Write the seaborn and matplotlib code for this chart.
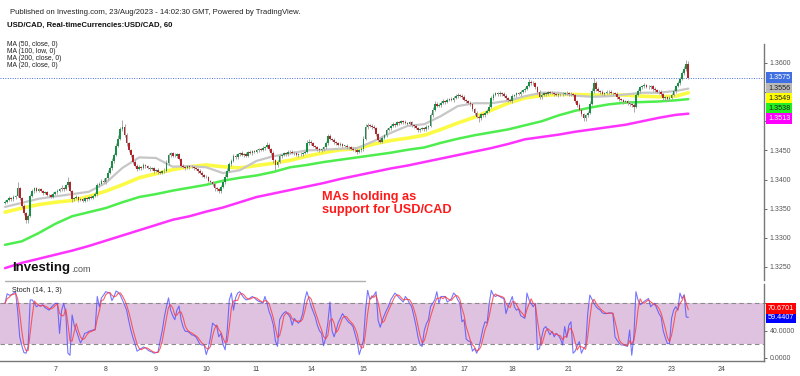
import numpy as np
import pandas as pd
import matplotlib
matplotlib.use('Agg')
import matplotlib.pyplot as plt
import seaborn as sns
from matplotlib.lines import Line2D

sns.set_style('white')
plt.rcParams['font.family'] = ['Liberation Sans', 'DejaVu Sans']

# ---------------- data (hourly USD/CAD) ----------------
first_open = 1.3360
close = [
    1.3362, 1.3365, 1.3368, 1.3366, 1.3370, 1.3372, 1.3385, 1.3368, 1.3355, 1.3342,
    1.3330, 1.3338, 1.3372, 1.3380, 1.3385, 1.3381, 1.3383, 1.3380, 1.3377, 1.3378,
    1.3374, 1.3373, 1.3370, 1.3376, 1.3378, 1.3381, 1.3383, 1.3386, 1.3384, 1.3390,
    1.3395, 1.3380, 1.3366, 1.3368, 1.3370, 1.3365, 1.3366, 1.3364, 1.3368, 1.3367,
    1.3370, 1.3369, 1.3372, 1.3375, 1.3390, 1.3393, 1.3398, 1.3396, 1.3402, 1.3412,
    1.3420, 1.3432, 1.3442, 1.3458, 1.3470, 1.3486, 1.3490, 1.3476, 1.3462, 1.3450,
    1.3442, 1.3430, 1.3424, 1.3418, 1.3422, 1.3420, 1.3425, 1.3423, 1.3420, 1.3418,
    1.3419, 1.3415, 1.3416, 1.3413, 1.3412, 1.3414, 1.3415, 1.3428, 1.3442, 1.3445,
    1.3441, 1.3440, 1.3443, 1.3435, 1.3424, 1.3421, 1.3420, 1.3423, 1.3421, 1.3422,
    1.3420, 1.3418, 1.3415, 1.3412, 1.3408, 1.3405, 1.3404, 1.3398, 1.3396, 1.3392,
    1.3385, 1.3383, 1.3380, 1.3388, 1.3396, 1.3405, 1.3415, 1.3426, 1.3432, 1.3440,
    1.3438, 1.3443, 1.3446, 1.3442, 1.3444, 1.3441, 1.3447, 1.3445, 1.3449, 1.3448,
    1.3450, 1.3452, 1.3451, 1.3454, 1.3456, 1.3460, 1.3452, 1.3446, 1.3433, 1.3425,
    1.3430, 1.3440, 1.3442, 1.3445, 1.3443, 1.3447, 1.3448, 1.3446, 1.3445, 1.3442,
    1.3443, 1.3444, 1.3446, 1.3448, 1.3462, 1.3465, 1.3462, 1.3458, 1.3455, 1.3452,
    1.3450, 1.3452, 1.3455, 1.3462, 1.3475, 1.3470, 1.3468, 1.3464, 1.3462, 1.3460,
    1.3461, 1.3458, 1.3458, 1.3456, 1.3455, 1.3453, 1.3451, 1.3450, 1.3448, 1.3450,
    1.3452, 1.3470, 1.3490, 1.3493, 1.3492, 1.3490, 1.3488, 1.3478, 1.3468, 1.3465,
    1.3472, 1.3476, 1.3485, 1.3488, 1.3492, 1.3495, 1.3494, 1.3498, 1.3497, 1.3500,
    1.3499, 1.3497, 1.3496, 1.3498, 1.3493, 1.3492, 1.3488, 1.3485, 1.3487, 1.3488,
    1.3486, 1.3490, 1.3492, 1.3510, 1.3520, 1.3530, 1.3527, 1.3528, 1.3532, 1.3535,
    1.3533, 1.3537, 1.3538, 1.3536, 1.3540, 1.3543, 1.3545, 1.3544, 1.3542, 1.3537,
    1.3535, 1.3532, 1.3530, 1.3521, 1.3515, 1.3508, 1.3505, 1.3512, 1.3510, 1.3515,
    1.3518, 1.3525, 1.3540, 1.3545, 1.3548, 1.3546, 1.3549, 1.3547, 1.3544, 1.3540,
    1.3536, 1.3535, 1.3543, 1.3545, 1.3548, 1.3547, 1.3550, 1.3553, 1.3556, 1.3560,
    1.3568, 1.3566, 1.3565, 1.3558, 1.3550, 1.3542, 1.3545, 1.3548, 1.3547, 1.3550,
    1.3549, 1.3548, 1.3546, 1.3545, 1.3547, 1.3546, 1.3547, 1.3549, 1.3548, 1.3546,
    1.3547, 1.3545, 1.3535, 1.3528, 1.3520, 1.3512, 1.3505, 1.3510, 1.3515, 1.3530,
    1.3552, 1.3565, 1.3555, 1.3552, 1.3550, 1.3547, 1.3548, 1.3551, 1.3550, 1.3548,
    1.3549, 1.3547, 1.3542, 1.3538, 1.3536, 1.3533, 1.3534, 1.3531, 1.3530, 1.3528,
    1.3525, 1.3545, 1.3552, 1.3558, 1.3560, 1.3562, 1.3559, 1.3558, 1.3560, 1.3555,
    1.3553, 1.3551, 1.3550, 1.3546, 1.3540, 1.3541, 1.3538, 1.3540, 1.3545, 1.3552,
    1.3560, 1.3566, 1.3572, 1.3582, 1.3590, 1.3598, 1.3575,
]

# wick lengths above / below the candle body, in pips
wick_up = [
    3, 2, 4, 2, 3, 2, 11, 3, 2, 3, 2, 3, 4, 3, 2, 3, 2, 3, 2, 2,
    3, 2, 2, 3, 2, 3, 2, 4, 2, 3, 10, 3, 2, 2, 3, 2, 2, 3, 2, 2,
    2, 3, 2, 3, 4, 3, 3, 4, 3, 4, 4, 5, 4, 5, 6, 5, 12, 6, 4, 3,
    3, 2, 3, 2, 3, 2, 3, 2, 2, 3, 2, 2, 2, 3, 2, 3, 4, 5, 4, 3,
    3, 4, 2, 3, 2, 2, 3, 2, 2, 3, 2, 2, 2, 3, 2, 2, 3, 2, 2, 2,
    2, 3, 2, 3, 4, 4, 5, 4, 3, 4, 3, 3, 2, 3, 2, 3, 2, 3, 2, 2,
    3, 2, 2, 3, 2, 4, 3, 2, 3, 2, 3, 3, 2, 3, 2, 3, 2, 2, 3, 2,
    2, 3, 2, 3, 5, 4, 3, 2, 2, 3, 2, 2, 3, 4, 4, 3, 2, 3, 2, 2,
    3, 2, 2, 3, 2, 2, 2, 3, 2, 2, 3, 4, 5, 4, 3, 3, 3, 3, 2, 3,
    3, 3, 3, 2, 3, 3, 2, 3, 2, 3, 2, 3, 2, 3, 2, 2, 3, 2, 2, 3,
    2, 3, 2, 4, 4, 4, 3, 3, 3, 3, 2, 3, 2, 3, 3, 4, 3, 2, 2, 3,
    2, 2, 3, 2, 2, 3, 2, 3, 2, 3, 3, 4, 4, 3, 3, 3, 3, 2, 3, 2,
    2, 3, 3, 2, 3, 3, 3, 3, 3, 3, 4, 3, 3, 2, 2, 3, 3, 2, 3, 2,
    2, 3, 2, 3, 2, 2, 3, 2, 3, 2, 3, 2, 2, 2, 3, 2, 3, 3, 3, 4,
    5, 9, 4, 3, 2, 3, 2, 3, 2, 3, 2, 2, 3, 2, 2, 3, 2, 2, 3, 2,
    3, 4, 4, 3, 3, 3, 2, 3, 3, 2, 3, 2, 2, 3, 2, 3, 2, 3, 3, 4,
    3, 3, 4, 4, 5, 7, 6,
]
wick_dn = [
    2, 3, 2, 3, 2, 3, 2, 3, 4, 3, 5, 4, 3, 2, 3, 2, 3, 2, 3, 2,
    2, 3, 2, 2, 3, 2, 3, 2, 3, 2, 3, 2, 4, 3, 2, 3, 2, 3, 2, 3,
    2, 3, 2, 2, 3, 2, 3, 2, 3, 3, 3, 3, 3, 2, 3, 3, 3, 3, 4, 3,
    4, 3, 3, 3, 2, 3, 2, 3, 2, 3, 2, 3, 2, 3, 3, 2, 3, 2, 3, 3,
    3, 2, 3, 2, 3, 2, 3, 2, 3, 2, 3, 2, 3, 3, 3, 3, 2, 3, 3, 3,
    4, 3, 3, 3, 2, 3, 2, 2, 3, 2, 3, 2, 3, 2, 3, 2, 3, 2, 3, 2,
    2, 3, 2, 2, 3, 2, 3, 4, 4, 9, 3, 2, 3, 2, 3, 2, 3, 2, 3, 2,
    3, 2, 3, 2, 2, 3, 2, 3, 2, 3, 3, 2, 3, 2, 2, 3, 2, 3, 2, 3,
    2, 3, 2, 3, 2, 3, 2, 3, 4, 3, 3, 3, 2, 3, 2, 3, 2, 4, 3, 3,
    3, 2, 3, 2, 3, 2, 3, 2, 3, 2, 3, 2, 3, 2, 3, 3, 2, 3, 3, 2,
    3, 2, 3, 2, 3, 2, 3, 2, 3, 2, 3, 2, 3, 2, 3, 2, 3, 2, 3, 3,
    3, 2, 3, 3, 4, 3, 6, 3, 3, 2, 3, 2, 2, 3, 2, 3, 2, 3, 3, 3,
    3, 2, 3, 2, 3, 2, 3, 2, 3, 2, 2, 3, 2, 3, 3, 4, 3, 2, 3, 2,
    3, 2, 3, 2, 3, 2, 3, 2, 3, 2, 3, 2, 4, 3, 3, 3, 5, 4, 3, 2,
    2, 3, 3, 2, 3, 2, 3, 2, 3, 2, 3, 2, 3, 3, 2, 3, 2, 3, 3, 4,
    9, 3, 2, 3, 2, 3, 2, 3, 2, 3, 2, 3, 3, 3, 4, 3, 3, 3, 2, 2,
    3, 2, 3, 2, 3, 3, 3,
]

# moving averages, read every 8 bars
ma_bar = [0, 8, 16, 24, 32, 40, 48, 56, 64, 72, 80, 88, 96, 104, 112, 120, 128,
          136, 144, 152, 160, 168, 176, 184, 192, 200, 208, 216, 224, 232, 240,
          248, 256, 264, 272, 280, 288, 296, 304, 312, 320, 326]
ma20 = [1.3353, 1.3360, 1.3367, 1.3371, 1.3375, 1.3379, 1.3394, 1.3420, 1.3438, 1.3437,
        1.3422, 1.3423, 1.3421, 1.3411, 1.3416, 1.3432, 1.3440, 1.3445, 1.3450, 1.3451,
        1.3453, 1.3454, 1.3466, 1.3480, 1.3492, 1.3495, 1.3509, 1.3526, 1.3531, 1.3531,
        1.3535, 1.3543, 1.3549, 1.3549, 1.3544, 1.3542, 1.3543, 1.3546, 1.3549, 1.3549,
        1.3552, 1.3556]
ma50 = [1.3344, 1.3351, 1.3357, 1.3361, 1.3364, 1.3371, 1.3380, 1.3391, 1.3403, 1.3410,
        1.3417, 1.3422, 1.3425, 1.3422, 1.3420, 1.3424, 1.3428, 1.3433, 1.3440, 1.3446,
        1.3451, 1.3453, 1.3461, 1.3467, 1.3471, 1.3476, 1.3486, 1.3497, 1.3507, 1.3519,
        1.3531, 1.3540, 1.3544, 1.3546, 1.3546, 1.3545, 1.3545, 1.3545, 1.3543, 1.3542,
        1.3543, 1.3549]
ma100 = [1.3288, 1.3294, 1.3308, 1.3324, 1.3337, 1.3344, 1.3351, 1.3361, 1.3370, 1.3375,
         1.3381, 1.3386, 1.3391, 1.3398, 1.3403, 1.3407, 1.3413, 1.3421, 1.3425, 1.3430,
         1.3434, 1.3438, 1.3442, 1.3446, 1.3451, 1.3455, 1.3463, 1.3470, 1.3476, 1.3481,
         1.3486, 1.3493, 1.3500, 1.3510, 1.3518, 1.3524, 1.3529, 1.3532, 1.3533, 1.3534,
         1.3536, 1.3538]
ma200 = [1.3248, 1.3257, 1.3264, 1.3271, 1.3278, 1.3286, 1.3295, 1.3304, 1.3313, 1.3322,
         1.3331, 1.3337, 1.3345, 1.3352, 1.3361, 1.3370, 1.3376, 1.3382, 1.3388, 1.3394,
         1.3401, 1.3407, 1.3413, 1.3419, 1.3424, 1.3430, 1.3436, 1.3442, 1.3448, 1.3454,
         1.3461, 1.3469, 1.3473, 1.3477, 1.3482, 1.3486, 1.3490, 1.3494, 1.3500, 1.3506,
         1.3511, 1.3513]

# stochastic %K per bar
stoch_k = [
    80, 94, 92, 92, 95, 97, 70, 31, 18, 8, 7, 17, 85, 85, 80, 75, 77, 76, 78, 74,
    72, 70, 74, 77, 80, 80, 36, 70, 80, 65, 7, 4, 63, 48, 40, 31, 22, 28, 36, 37,
    39, 40, 41, 42, 90, 75, 88, 92, 97, 96, 95, 84, 90, 98, 96, 92, 85, 78, 70, 55,
    41, 30, 21, 10, 12, 14, 16, 15, 12, 10, 9, 7, 8, 9, 25, 40, 60, 75, 88, 70,
    62, 56, 70, 76, 56, 45, 39, 39, 37, 34, 33, 31, 26, 20, 19, 19, 5, 15, 30, 51,
    48, 46, 31, 36, 20, 12, 40, 85, 95, 70, 88, 95, 97, 92, 88, 85, 86, 88, 90, 88,
    85, 83, 82, 80, 90, 80, 68, 60, 48, 25, 17, 56, 62, 66, 68, 64, 60, 48, 58, 54,
    51, 55, 65, 85, 97, 87, 76, 68, 60, 48, 40, 36, 18, 30, 51, 82, 40, 31, 41, 52,
    58, 65, 60, 56, 52, 50, 46, 35, 24, 5, 15, 26, 70, 99, 86, 88, 92, 97, 55, 45,
    55, 63, 70, 76, 85, 90, 95, 92, 88, 85, 82, 90, 86, 80, 75, 62, 48, 31, 19, 17,
    40, 50, 56, 75, 80, 85, 97, 80, 90, 90, 90, 82, 84, 87, 95, 92, 85, 80, 53, 56,
    28, 25, 24, 10, 14, 7, 14, 28, 43, 53, 51, 80, 99, 92, 90, 92, 90, 88, 87, 65,
    75, 82, 90, 75, 70, 72, 62, 60, 58, 95, 85, 80, 75, 80, 12, 14, 30, 43, 46, 40,
    34, 39, 31, 36, 33, 28, 19, 46, 30, 48, 53, 7, 10, 18, 24, 7, 14, 17, 65, 92,
    86, 80, 75, 72, 70, 66, 65, 65, 66, 66, 65, 31, 26, 22, 19, 19, 18, 17, 41, 4,
    31, 97, 85, 78, 80, 83, 85, 87, 75, 78, 80, 72, 65, 60, 40, 30, 21, 21, 58, 70,
    75, 70, 95, 87, 92.5696, 60, 59.4407,
]

day_bar = [24, 48, 72, 96, 120, 146, 171, 195, 219, 242, 269, 293, 318, 342]
day_lbl = ['7', '8', '9', '10', '11', '14', '15', '16', '17', '18', '21', '22', '23', '24']

# ---------------- build candles ----------------
df = pd.DataFrame({'close': close})
df['bar'] = np.arange(len(df))
df['open'] = [first_open] + close[:-1]
df['high'] = df[['open', 'close']].max(axis=1) + np.array(wick_up) / 1e4
df['low'] = df[['open', 'close']].min(axis=1) - np.array(wick_dn) / 1e4
df['up'] = df['close'] >= df['open']
stoch_d = pd.Series(stoch_k).rolling(3, min_periods=1).mean()

# ---------------- figure ----------------
W, H = 800, 376
fig = plt.figure(figsize=(8, 3.76), dpi=100)


def fx(px):
    return px / W


def fy(py):
    return 1 - py / H


ax = fig.add_axes([0, fy(280), fx(764), fy(44) - fy(280)])
ax2 = fig.add_axes([0, fy(361), fx(764), fy(284) - fy(361)], sharex=ax)

# moving averages
sns.lineplot(x=ma_bar, y=ma200, ax=ax, color='#ff33ff', linewidth=1.8, zorder=1)
sns.lineplot(x=ma_bar, y=ma100, ax=ax, color='#4ded4d', linewidth=1.8, zorder=1)
sns.lineplot(x=ma_bar, y=ma50, ax=ax, color='#fbfb46', linewidth=2.6, zorder=1)
sns.lineplot(x=ma_bar, y=ma20, ax=ax, color='#c6c6c6', linewidth=1.6, zorder=1)

# candles
up_col, dn_col = '#178f45', '#b3232a'
ax.vlines(df['bar'], df['low'], df['high'], color='#a8a8a8', linewidth=0.7, zorder=2)
body_lo = df[['open', 'close']].min(axis=1)
body_h = (df['close'] - df['open']).abs().clip(lower=0.0001)
ax.bar(df['bar'], body_h, bottom=body_lo, width=0.8,
       color=np.where(df['up'], up_col, dn_col), linewidth=0, zorder=3)

ax.axhline(close[-1], color='#4a6fd8', linewidth=0.7, linestyle=(0, (1, 1.5)), zorder=1)

# current value tags on the price axis (stacked downward when they collide)
tags = [(close[-1], '#3f6fe0', 'white'), (ma20[-1], '#b9b9b9', '#222'),
        (ma50[-1], '#ffff00', '#222'), (ma100[-1], '#22ee22', '#222'),
        (ma200[-1], '#ff00ff', 'white')]
tag_pos = []
prev = None
for val, bc, tc in tags:
    pos = val if prev is None else min(val, prev - 0.0017)
    prev = pos
    tag_pos.append(pos)
    ax.annotate(f'{val:.4f}', xy=(1, pos), xycoords=('axes fraction', 'data'),
                xytext=(3, 0), textcoords='offset points', va='center', ha='left',
                fontsize=5.2, color=tc, annotation_clip=False, zorder=5,
                bbox=dict(boxstyle='square,pad=0.25', fc=bc, ec='none'))

ax.set_xlim(-2.4, 362.1)
ax.set_ylim(1.32276, 1.36326)
ax.yaxis.tick_right()
yt = np.round(np.arange(1.325, 1.36001, 0.005), 4)
ax.set_yticks(yt)
# labels hidden behind the value tags are left blank
ax.set_yticklabels(['' if min(abs(v - p) for p in tag_pos) < 0.0012 else f'{v:.4f}' for v in yt])
ax.tick_params(axis='y', labelsize=5, colors='#666', labelcolor='#555', length=2.5, pad=1.5, width=0.7)
ax.tick_params(axis='x', bottom=False, labelbottom=False)
for s in ['top', 'left', 'bottom']:
    ax.spines[s].set_visible(False)
ax.spines['right'].set_color('#777')
ax.spines['right'].set_linewidth(1)
ax.set_xlabel('')
ax.set_ylabel('')

# ---------------- stochastic ----------------
ax2.axhspan(20, 80, color='#dfc2df', zorder=0, linewidth=0)
for lvl in (20, 80):
    ax2.axhline(lvl, color='#8a8a8a', linewidth=0.8, linestyle=(0, (4, 3)), zorder=1)
sns.lineplot(x=df['bar'], y=stoch_k, ax=ax2, color='#4848ff', linewidth=0.8, alpha=0.75, zorder=2)
sns.lineplot(x=df['bar'], y=stoch_d, ax=ax2, color='#ff3a3a', linewidth=0.8, alpha=0.8, zorder=3)

stags = [(stoch_k[-1], '#0000ff'), (stoch_d.iloc[-1], '#ff0000')]
stag_pos = []
prev = None
for val, bc in stags:
    pos = val if prev is None else max(val, prev + 13)
    prev = pos
    stag_pos.append(pos)
    ax2.annotate(f'{val:.4f}', xy=(1, pos), xycoords=('axes fraction', 'data'),
                 xytext=(3, 0), textcoords='offset points', va='center', ha='left',
                 fontsize=5.2, color='white', annotation_clip=False, zorder=5,
                 bbox=dict(boxstyle='square,pad=0.25', fc=bc, ec='none'))

ax2.set_ylim(-4.4, 108.3)
ax2.yaxis.tick_right()
st = [0, 40, 80]
ax2.set_yticks(st)
ax2.set_yticklabels(['' if min(abs(v - p) for p in stag_pos) < 9 else f'{v:.4f}' for v in st])
ax2.tick_params(axis='y', labelsize=5, labelcolor='#555', colors='#666', length=2.5, pad=1.5, width=0.7)
ax2.set_xticks(day_bar)
ax2.set_xticklabels(day_lbl)
ax2.tick_params(axis='x', labelsize=5, labelcolor='#444', colors='#666', length=2, pad=1.5, width=0.7)
ax2.set_xlabel('')
ax2.set_ylabel('')
for s in ['top', 'left']:
    ax2.spines[s].set_visible(False)
for s in ['right', 'bottom']:
    ax2.spines[s].set_color('#777')
    ax2.spines[s].set_linewidth(1)

# ---------------- texts ----------------
fig.text(fx(10), fy(12), 'Published on Investing.com, 23/Aug/2023 - 14:02:30 GMT, Powered by TradingView.',
         fontsize=5.6, va='center', color='#222')
fig.text(fx(7), fy(25), 'USD/CAD, Real-timeCurrencies:USD/CAD, 60',
         fontsize=5.6, fontweight='bold', va='center', color='#111')
for k, lbl in enumerate(['MA (50, close, 0)', 'MA (100, low, 0)', 'MA (200, close, 0)', 'MA (20, close, 0)']):
    fig.text(fx(7), fy(44.3 + 7 * k), lbl, fontsize=4.9, va='center', color='#222')

fig.text(fx(322), fy(191), 'MAs holding as\nsupport for USD/CAD', fontsize=9.2, fontweight='bold',
         color='#ff1a1a', va='top', ha='left', linespacing=1.1)

logo = fig.text(fx(12), fy(268), 'Investing', fontsize=9.5, fontweight='bold', va='center', color='#111')
fig.canvas.draw()
bb = logo.get_window_extent()
fig.text(bb.x1 / W + 0.001, fy(269), '.com', fontsize=6.5, va='center', color='#555')

fig.text(fx(12), fy(291), 'Stoch (14, 1, 3)', fontsize=5.2, va='center', color='#222')
fig.add_artist(Line2D([fx(5), fx(365)], [fy(281), fy(281)], color='#b0b0b0', linewidth=1))

fig.savefig('out.png', dpi=100)
